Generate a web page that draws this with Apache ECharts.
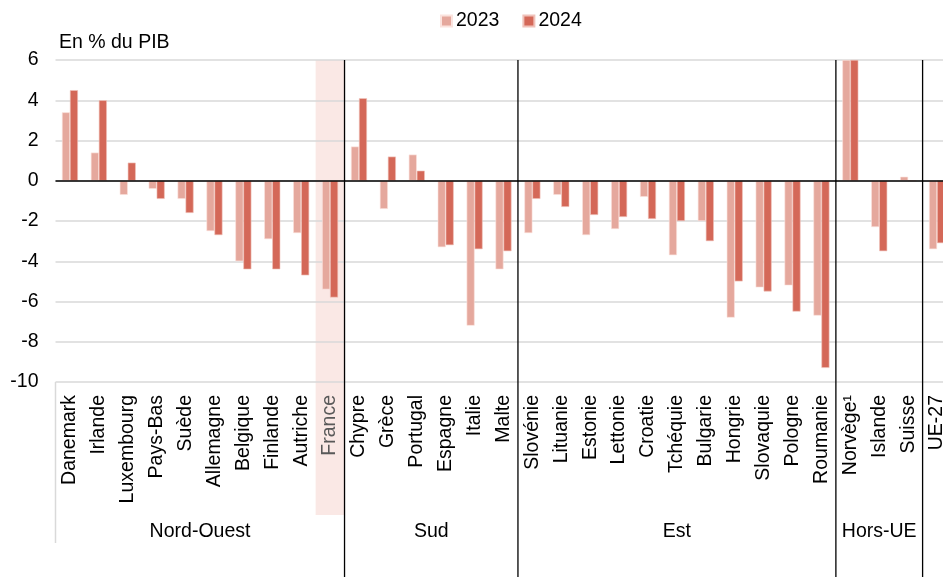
<!DOCTYPE html>
<html>
<head>
<meta charset="utf-8">
<script src="https://cdn.jsdelivr.net/npm/echarts@6/dist/echarts.min.js"></script>
<style>
html,body{margin:0;padding:0;background:#fff;overflow:hidden;width:943px;height:577px;}
#chart{width:953px;height:577px;}
</style>
</head>
<body>
<div id="chart"></div>
<script>
const categories = ['Danemark','Irlande','Luxembourg','Pays-Bas','Suède','Allemagne','Belgique','Finlande','Autriche','France',
  'Chypre','Grèce','Portugal','Espagne','Italie','Malte',
  'Slovénie','Lituanie','Estonie','Lettonie','Croatie','Tchéquie','Bulgarie','Hongrie','Slovaquie','Pologne','Roumanie',
  'Norvège¹','Islande','Suisse','UE-27'];
const values2023 = [3.4,1.4,-0.7,-0.4,-0.9,-2.5,-4.0,-2.9,-2.6,-5.4,
  1.7,-1.4,1.3,-3.3,-7.2,-4.4,
  -2.6,-0.7,-2.7,-2.4,-0.8,-3.7,-2.0,-6.8,-5.3,-5.2,-6.7,
  6.0,-2.3,0.2,-3.4];
const values2024 = [4.5,4.0,0.9,-0.9,-1.6,-2.7,-4.4,-4.4,-4.7,-5.8,
  4.1,1.2,0.5,-3.2,-3.4,-3.5,
  -0.9,-1.3,-1.7,-1.8,-1.9,-2.0,-3.0,-5.0,-5.5,-6.5,-9.3,
  6.0,-3.5,0.0,-3.1];
const groupNames = ['Nord-Ouest','Sud','Est','Hors-UE',''];
const groupSizes = [10,6,11,3,1];
const yTicks = [-10,-8,-6,-4,-2,0,2,4,6];
const highlighted = 'France';

const FONT = "'Liberation Sans', Arial, sans-serif";
const FS = 19.5;
const chart = echarts.init(document.getElementById('chart'), null, {renderer:'canvas'});

const gridLeft = 55.5, gridTop = 60, gridBottomY = 382, gridWidth = 896;

chart.setOption({
  animation:false,
  textStyle:{fontFamily:FONT},
  title:{text:'En % du PIB', left:59, top:33, padding:0,
    textStyle:{fontFamily:FONT,fontSize:FS,fontWeight:'normal',color:'#000'}},
  legend:{
    data:['2023','2024'], left:440, top:11, padding:0, itemWidth:11, itemHeight:11, itemGap:23,
    textStyle:{fontFamily:FONT,fontSize:FS,color:'#000',padding:[0,0,0,-1]},
    icon:'rect'
  },
  grid:{left:gridLeft, top:gridTop, width:gridWidth, height:gridBottomY-gridTop, containLabel:false},
  xAxis:{
    type:'category', data:categories,
    axisLine:{show:false}, axisTick:{show:false},
    axisLabel:{
      rotate:90, fontSize:FS, fontFamily:FONT, margin:13, interval:0,
      color:(v)=> v===highlighted ? '#595959' : '#000'
    }
  },
  yAxis:{
    type:'value', min:yTicks[0], max:yTicks[yTicks.length-1], interval:2,
    axisLine:{show:false}, axisTick:{show:false},
    axisLabel:{fontSize:FS, fontFamily:FONT, color:'#000', margin:17},
    splitLine:{lineStyle:{color:'#d9d9d9', width:1.5}}
  },
  series:[
    {name:'2023', type:'bar', data:values2023, barWidth:8, barGap:'0%',
     itemStyle:{color:'#e5a89d', borderColor:'#fbe3de', borderWidth:0.6}, z:3,
     markLine:{silent:true, symbol:['none','none'], label:{show:false},
       lineStyle:{color:'#000', type:'solid', width:1.5}, data:[{yAxis:0}]}},
    {name:'2024', type:'bar', data:values2024, barWidth:8,
     itemStyle:{color:'#d46858', borderColor:'#f0c2ba', borderWidth:0.6}, z:3}
  ]
});

function drawExtras(){
  const c0 = chart.convertToPixel({xAxisIndex:0}, categories[0]);
  const c1 = chart.convertToPixel({xAxisIndex:0}, categories[1]);
  const band = c1 - c0;
  const left = c0 - band/2;
  const yTop = chart.convertToPixel({yAxisIndex:0}, yTicks[yTicks.length-1]);
  const yBot = chart.convertToPixel({yAxisIndex:0}, yTicks[0]);
  const els = [];
  const fx = chart.convertToPixel({xAxisIndex:0}, highlighted);
  els.push({type:'rect', z:-10, silent:true,
    shape:{x:fx-band/2, y:yTop, width:band, height:515-yTop},
    style:{fill:'#fae8e5'}});
  els.push({type:'line', silent:true, z:1,
    shape:{x1:left, y1:yBot, x2:left, y2:543}, style:{stroke:'#d9d9d9', lineWidth:1.5}});
  let start = 0;
  groupSizes.forEach((n,gi)=>{
    const end = start + n;
    const xs = left + start*band, xe = left + end*band;
    if (groupNames[gi]) {
      els.push({type:'text', silent:true, z:5,
        style:{text:groupNames[gi], x:(xs+xe)/2, y:532, textAlign:'center', textVerticalAlign:'middle',
          font:FS+'px '+FONT, fill:'#000'}});
    }
    if (gi < groupSizes.length-1) {
      els.push({type:'line', silent:true, z:5,
        shape:{x1:xe, y1:yTop, x2:xe, y2:577}, style:{stroke:'#000', lineWidth:1.3}});
    }
    start = end;
  });
  chart.setOption({graphic:els});
}
drawExtras();
</script>
</body>
</html>
